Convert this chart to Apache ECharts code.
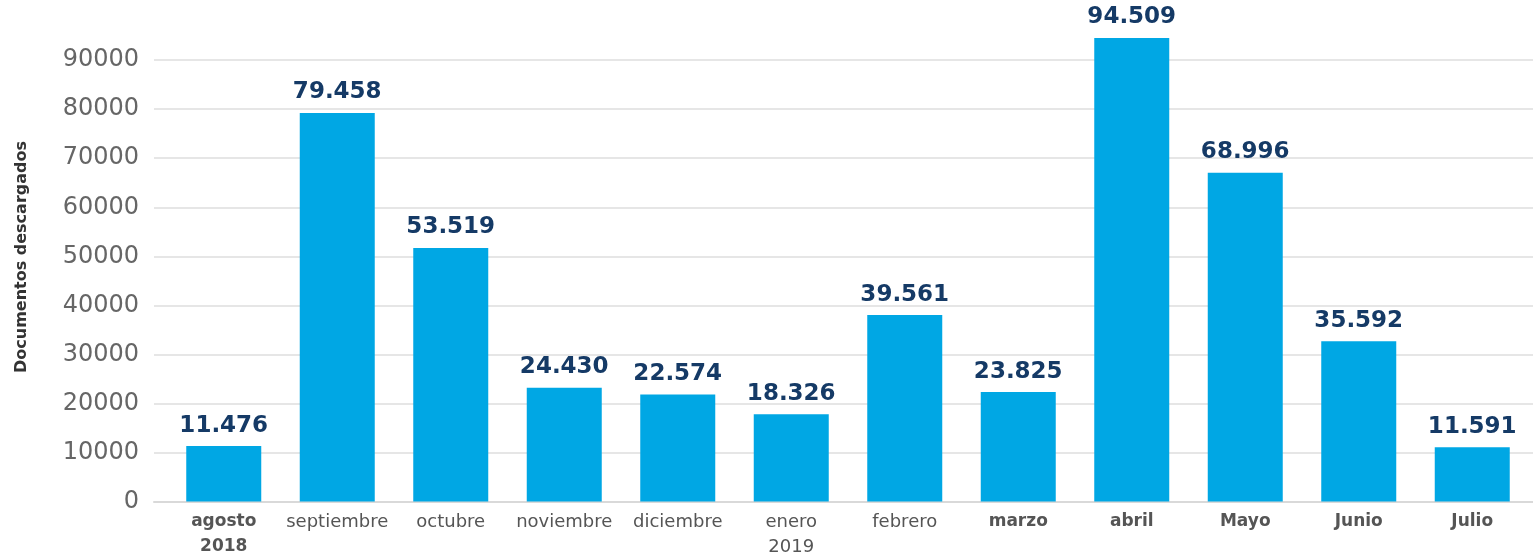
<!DOCTYPE html>
<html>
<head>
<meta charset="utf-8">
<script src="https://cdn.jsdelivr.net/npm/echarts@6/dist/echarts.min.js"></script>
<style>html,body{margin:0;padding:0;background:#fff;}#c{width:1533px;height:556px;}</style>
</head>
<body>
<div id="c"></div>
<script>
const categories = ['agosto\n2018','septiembre','octubre','noviembre','diciembre','enero\n2019','febrero','marzo','abril','Mayo','Junio','Julio'];
const barValues = [11300, 79200, 51700, 23200, 21800, 17800, 38000, 22300, 94500, 67000, 32650, 11060];
const valueLabels = ['11.476','79.458','53.519','24.430','22.574','18.326','39.561','23.825','94.509','68.996','35.592','11.591'];
const yTicks = [0, 10000, 20000, 30000, 40000, 50000, 60000, 70000, 80000, 90000];
const yAxisTitle = 'Documentos descargados';

const boldIdx = new Set([0, 7, 8, 9, 10, 11]);
const FONT = 'DejaVu Sans';

const chart = echarts.init(document.getElementById('c'), null, {renderer: 'canvas'});
chart.setOption({
  animation: false,
  backgroundColor: '#ffffff',
  grid: [
    {left: 154, right: 0, top: 60, bottom: 54, containLabel: false},
    {left: 167, right: 4, top: 11, bottom: 54, containLabel: false}
  ],
  xAxis: [
    {gridIndex: 0, type: 'category', data: categories, show: true,
     axisLine: {show: true, lineStyle: {color: '#d9d9d9', width: 2}},
     axisTick: {show: false}, axisLabel: {show: false}},
    {gridIndex: 1, type: 'category', data: categories,
     axisLine: {show: false}, axisTick: {show: false},
     axisLabel: {
       margin: 8,
       interval: 0,
       formatter: function (v, i) {
         const tag = boldIdx.has(i) ? 'b' : 'r';
         return v.split('\n').map(s => '{' + tag + '|' + s + '}').join('\n');
       },
       rich: {
         r: {fontFamily: FONT, fontSize: 18, color: '#555555', lineHeight: 25},
         b: {fontFamily: FONT, fontSize: 17, fontWeight: 'bold', color: '#555555', lineHeight: 25}
       }
     }}
  ],
  yAxis: [
    {gridIndex: 0, type: 'value', min: yTicks[0], max: yTicks[yTicks.length - 1], interval: yTicks[1] - yTicks[0],
     axisLine: {show: false}, axisTick: {show: false},
     axisLabel: {margin: 15, fontFamily: FONT, fontSize: 24, color: '#666666', formatter: v => String(v)},
     splitLine: {show: true, lineStyle: {color: '#e6e6e6', width: 2}}},
    {gridIndex: 1, type: 'value', min: 0, max: 100000, show: false, splitLine: {show: false}}
  ],
  series: [{
    type: 'bar',
    xAxisIndex: 1,
    yAxisIndex: 1,
    data: barValues,
    barWidth: 75,
    itemStyle: {color: '#00a7e4'},
    label: {
      show: true,
      position: 'top',
      distance: 9,
      fontFamily: FONT,
      fontWeight: 'bold',
      fontSize: 23,
      color: '#153a66',
      formatter: p => valueLabels[p.dataIndex]
    }
  }],
  graphic: [{
    type: 'text',
    x: 22,
    y: 257,
    rotation: Math.PI / 2,
    style: {
      text: yAxisTitle,
      font: 'bold 16px "DejaVu Sans"',
      fill: '#333333',
      align: 'center',
      verticalAlign: 'middle'
    }
  }]
});
</script>
</body>
</html>
